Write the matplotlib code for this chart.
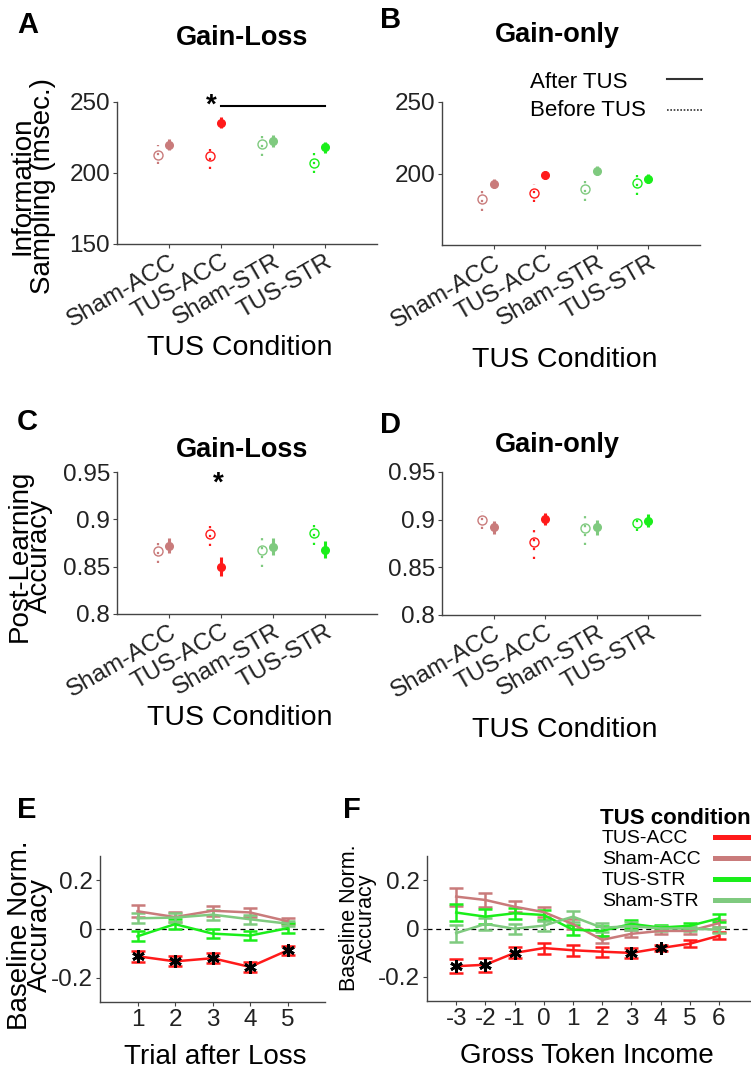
"""Recreate the TUS condition figure (panels A-F)."""
import matplotlib
matplotlib.use("Agg")
import matplotlib.pyplot as plt
from matplotlib.lines import Line2D
import numpy as np

plt.rcParams["font.family"] = ["Liberation Sans", "DejaVu Sans"]

W, H = 751, 1080

CONDITIONS = ["Sham-ACC", "TUS-ACC", "Sham-STR", "TUS-STR"]
COND_COLORS = ["#c97b7b", "#ff1a1a", "#7fca7f", "#1aee1a"]

# Panel A: Gain-Loss information sampling (msec.)
a_before = [213, 212, 220.5, 207]
a_before_err = [6.5, 9, 8.5, 7]
a_after = [220, 235.5, 222.5, 218]
a_after_err = [4, 4, 4, 4]

# Panel B: Gain-only information sampling (msec.)
b_before = [182.5, 186.5, 189.5, 193.5]
b_before_err = [8.5, 6.5, 8.5, 8.5]
b_after = [193, 199, 202, 196.5]
b_after_err = [3, 3, 3, 3]

# Panel C: Gain-Loss post-learning accuracy
c_before = [0.867, 0.885, 0.868, 0.886]
c_before_err = [0.013, 0.013, 0.018, 0.013]
c_after = [0.872, 0.850, 0.871, 0.868]
c_after_err = [0.008, 0.010, 0.009, 0.009]

# Panel D: Gain-only post-learning accuracy
d_before = [0.8997, 0.877, 0.891, 0.897]
d_before_err = [0.009, 0.018, 0.018, 0.009]
d_after = [0.892, 0.9005, 0.892, 0.899]
d_after_err = [0.007, 0.006, 0.008, 0.007]

# Panel E: trial after loss
trials = [1, 2, 3, 4, 5]
e_tus_acc = [-0.112, -0.133, -0.120, -0.156, -0.088]
e_tus_acc_err = [0.022, 0.020, 0.020, 0.020, 0.020]
e_sham_acc = [0.073, 0.049, 0.075, 0.068, 0.032]
e_sham_acc_err = [0.025, 0.020, 0.020, 0.018, 0.012]
e_tus_str = [-0.030, 0.020, -0.019, -0.027, 0.003]
e_tus_str_err = [0.020, 0.020, 0.020, 0.020, 0.020]
e_sham_str = [0.044, 0.047, 0.059, 0.040, 0.022]
e_sham_str_err = [0.021, 0.020, 0.020, 0.019, 0.010]
e_star_idx = [0, 1, 2, 3, 4]

# Panel F: gross token income
income = [-3, -2, -1, 0, 1, 2, 3, 4, 5, 6]
f_tus_acc = [-0.156, -0.150, -0.101, -0.081, -0.090, -0.096, -0.101, -0.081, -0.063, -0.030]
f_tus_acc_err = [0.030, 0.028, 0.023, 0.023, 0.023, 0.020, 0.020, 0.012, 0.014, 0.014]
f_sham_acc = [0.132, 0.118, 0.090, 0.068, 0.018, -0.047, -0.022, -0.010, -0.010, 0.022]
f_sham_acc_err = [0.037, 0.029, 0.022, 0.019, 0.020, 0.015, 0.015, 0.012, 0.012, 0.015]
f_tus_str = [0.066, 0.049, 0.063, 0.056, -0.005, -0.010, 0.019, 0.004, 0.011, 0.042]
f_tus_str_err = [0.036, 0.032, 0.023, 0.020, 0.020, 0.020, 0.015, 0.010, 0.013, 0.016]
f_sham_str = [-0.019, 0.019, -0.001, 0.012, 0.049, 0.003, 0.010, 0.000, 0.000, -0.005]
f_sham_str_err = [0.035, 0.025, 0.021, 0.021, 0.024, 0.018, 0.015, 0.012, 0.012, 0.012]
f_star_idx = [0, 1, 2, 6, 7]

LINE_ORDER = ["TUS-ACC", "Sham-ACC", "TUS-STR", "Sham-STR"]
LINE_COLORS = {"TUS-ACC": "#ff1a1a", "Sham-ACC": "#c97b7b",
               "TUS-STR": "#1aee1a", "Sham-STR": "#7fca7f"}

SPINE = "#444444"
TXT = "#222222"
TICK_SIZE = 17.5


def px_axes(left, top, right, bottom):
    """Axes rect from pixel box of the reference."""
    return [left / W, 1 - bottom / H, (right - left) / W, (bottom - top) / H]


def style_axes(ax):
    for s in ["top", "right"]:
        ax.spines[s].set_visible(False)
    for s in ["left", "bottom"]:
        ax.spines[s].set_color(SPINE)
        ax.spines[s].set_linewidth(1.0)
    ax.tick_params(direction="out", length=3, width=0.8, color=SPINE,
                   labelsize=TICK_SIZE, labelcolor=TXT, pad=2)


def condition_panel(ax, before, before_err, after, after_err):
    x = np.arange(1, len(CONDITIONS) + 1)
    for i, c in enumerate(COND_COLORS):
        eb = ax.errorbar(x[i] - 0.22, before[i], yerr=before_err[i], fmt="o",
                         mfc="none", mec=c, ms=6.5, mew=1.0, ecolor=c,
                         elinewidth=1.6)
        eb[2][0].set_linestyle((0, (1, 3)))
        ax.errorbar(x[i], after[i], yerr=after_err[i], fmt="o", color=c,
                    ms=5.5, elinewidth=2.2)
    ax.set_xlim(0, 5)
    ax.set_xticks(x)
    ax.set_xticklabels(CONDITIONS, rotation=30, ha="right",
                       rotation_mode="anchor")
    style_axes(ax)


def line_panel(ax, xs, series, star_idx):
    for name in LINE_ORDER:
        mean, err = series[name]
        ax.errorbar(xs, mean, yerr=err, color=LINE_COLORS[name], lw=1.8,
                    elinewidth=1.8, capsize=5, capthick=1.8)
    red = series["TUS-ACC"][0]
    ax.plot([xs[i] for i in star_idx], [red[i] for i in star_idx],
            ls="none", marker=(6, 2, 0), ms=9, mew=2, color="k", zorder=5)
    ax.axhline(0, color="k", lw=0.9, ls=(0, (4, 3)), zorder=0)
    ax.set_ylim(-0.3, 0.3)
    ax.set_yticks([-0.2, 0, 0.2])
    ax.set_yticklabels(["-0.2", "0", "0.2"])
    ax.set_xticks(xs)
    ax.set_xticklabels([str(v) for v in xs])
    style_axes(ax)


fig = plt.figure(figsize=(W / 100, H / 100), dpi=100)

boxA = (117, 102, 377, 244)
boxB = (442, 102, 700, 245)
boxC = (117, 472, 377, 614)
boxD = (442, 472, 700, 615)
boxE = (100, 856, 325, 1002)
boxF = (427, 856, 751, 1001)

axA = fig.add_axes(px_axes(*boxA))
axB = fig.add_axes(px_axes(*boxB))
axC = fig.add_axes(px_axes(*boxC))
axD = fig.add_axes(px_axes(*boxD))
axE = fig.add_axes(px_axes(*boxE))
axF = fig.add_axes(px_axes(*boxF))

condition_panel(axA, a_before, a_before_err, a_after, a_after_err)
condition_panel(axB, b_before, b_before_err, b_after, b_after_err)
condition_panel(axC, c_before, c_before_err, c_after, c_after_err)
condition_panel(axD, d_before, d_before_err, d_after, d_after_err)

for ax in (axA, axB):
    ax.set_ylim(150, 250)
axA.set_yticks([150, 200, 250])
axB.set_yticks([200, 250])
for ax in (axC, axD):
    ax.set_ylim(0.8, 0.95)
    ax.set_yticks([0.8, 0.85, 0.9, 0.95])
    ax.set_yticklabels(["0.8", "0.85", "0.9", "0.95"])

# significance marks
axA.plot([2, 4], [247.2, 247.2], color="k", lw=1.5, clip_on=False)
axA.text(1.82, 247.5, "*", fontsize=20, fontweight="bold", ha="center",
         va="center")
axC.text(1.95, 0.938, "*", fontsize=20, fontweight="bold", ha="center",
         va="center")

line_panel(axE, trials, {
    "TUS-ACC": (e_tus_acc, e_tus_acc_err),
    "Sham-ACC": (e_sham_acc, e_sham_acc_err),
    "TUS-STR": (e_tus_str, e_tus_str_err),
    "Sham-STR": (e_sham_str, e_sham_str_err),
}, e_star_idx)
axE.set_xlim(0, 6)

line_panel(axF, income, {
    "TUS-ACC": (f_tus_acc, f_tus_acc_err),
    "Sham-ACC": (f_sham_acc, f_sham_acc_err),
    "TUS-STR": (f_tus_str, f_tus_str_err),
    "Sham-STR": (f_sham_str, f_sham_str_err),
}, f_star_idx)
axF.set_xlim(-4, 7.1)


def xlabel(ax, text, x_px, base_px, box, size):
    left, top, right, bottom = box
    ax.set_xlabel(text, fontsize=size, color="k")
    ax.xaxis.set_label_coords((x_px - left) / (right - left),
                              (bottom - base_px) / (bottom - top))
    ax.xaxis.label.set_verticalalignment("baseline")


xlabel(axA, "TUS Condition", 240, 355, boxA, 20.5)
xlabel(axB, "TUS Condition", 565, 367, boxB, 20.5)
xlabel(axC, "TUS Condition", 240, 725, boxC, 20.5)
xlabel(axD, "TUS Condition", 565, 737, boxD, 20.5)
xlabel(axE, "Trial after Loss", 215, 1064, boxE, 20)
xlabel(axF, "Gross Token Income", 587, 1063, boxF, 20)


def ylabel(ax, text, right_px, center_px, box, size):
    left, top, right, bottom = box
    ax.set_ylabel(text, fontsize=size, color="k", linespacing=0.72)
    ax.yaxis.set_label_coords((right_px - left) / (right - left),
                              (bottom - center_px) / (bottom - top))


ylabel(axA, "Information\nSampling (msec.)", 56, 186, boxA, 20)
ylabel(axC, "Post-Learning\nAccuracy", 53, 556, boxC, 20)
ylabel(axE, "Baseline Norm.\nAccuracy", 53, 935, boxE, 20)
ylabel(axF, "Baseline Norm.\nAccuracy", 377, 918, boxF, 15.5)

# panel titles
for cx, base, title in [(242, 45, "Gain-Loss"), (557, 42, "Gain-only"),
                        (242, 457, "Gain-Loss"), (557, 452, "Gain-only")]:
    fig.text(cx / W, 1 - base / H, title, fontsize=19.5, fontweight="bold",
             ha="center", va="baseline")

# panel letters
for lx, base, letter in [(17, 33, "A"), (380, 28, "B"), (17, 430, "C"),
                         (380, 433, "D"), (17, 818, "E"), (343, 818, "F")]:
    fig.text(lx / W, 1 - base / H, letter, fontsize=21, fontweight="bold",
             ha="left", va="baseline")


def key_line(x0, x1, y, **kw):
    fig.add_artist(Line2D([x0 / W, x1 / W], [1 - y / H, 1 - y / H],
                          transform=fig.transFigure, **kw))


# key for panel B: before / after
for label, base, y_line, ls, lw in [("After TUS", 88, 78.5, "-", 1.5),
                                    ("Before TUS", 116, 109.5, (0, (1, 1)), 1.2)]:
    fig.text(530 / W, 1 - base / H, label, fontsize=16, ha="left",
             va="baseline")
    key_line(667, 702, y_line, color="#333333", lw=lw, ls=ls)

# key for panel F: TUS condition
fig.text(600 / W, 1 - 824 / H, "TUS condition", fontsize=16,
         fontweight="bold", ha="left", va="baseline")
for k, name in enumerate(LINE_ORDER):
    fig.text(602 / W, 1 - (843 + 21 * k) / H, name, fontsize=14,
             ha="left", va="baseline")
    key_line(715, 760, 837 + 21 * k, color=LINE_COLORS[name], lw=3.6)

fig.savefig("out.png", dpi=100)
